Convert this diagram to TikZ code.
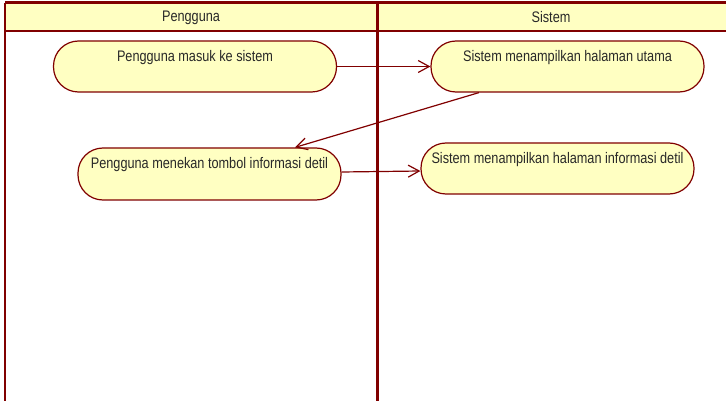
\documentclass[tikz,border=0pt]{standalone}
\usepackage{fontspec}
\setmainfont{Liberation Sans}[FakeStretch=0.83]
\usetikzlibrary{arrows.meta}
\definecolor{lane}{RGB}{128,0,0}
\definecolor{actfill}{RGB}{255,255,194}
\definecolor{ink}{RGB}{40,40,40}

\begin{document}
\begin{tikzpicture}[x=1pt,y=-1pt,
  txt/.style={text=ink, font=\fontsize{15.3}{18}\selectfont},
  act/.style={txt, draw=lane, line width=1.2pt, fill=actfill,
    rounded corners=25pt, minimum height=51pt, inner sep=0pt,
    text height=10pt, text depth=20pt},
  flow/.style={draw=lane, line width=1.2pt,
    -{Straight Barb[length=11pt,width=12pt,line width=1.2pt]}},
  border/.style={draw=lane, line width=3pt}]
  \useasboundingbox (0,0) rectangle (726,401);
  \clip (0,0) rectangle (726,401);

  % swimlane frame
  \fill[actfill] (5,3) rectangle (740,31);
  \draw[border, line width=2.2pt] (5,31) -- (740,31);
  \draw[border, line width=2.4pt] (5,410) -- (5,3);
  \draw[border] (5,3) -- (740,3);
  \draw[border] (377,3) -- (377,410);
  \node[txt] (laneU) at (191,17.5) {Pengguna};
  \node[txt] (laneS) at (551,17.5) {Sistem};

  % activities
  \node[act, minimum width=283pt] (n1) at (195,66.5) {Pengguna masuk ke sistem};
  \node[act, minimum width=273pt] (n2) at (567.5,66.5) {Sistem menampilkan halaman utama};
  \node[act, minimum width=263pt, minimum height=52pt] (n3) at (209.5,174) {Pengguna menekan tombol informasi detil};
  \node[act, minimum width=273pt] (n4) at (557.5,168.5) {Sistem menampilkan halaman informasi detil};

  % transitions
  \draw[flow] (n1.east) -- (n2.west);
  \draw[flow] ([xshift=-88.5pt]n2.south) -- ([xshift=85.5pt]n3.north);
  \draw[flow] ([yshift=2pt]n3.east) -- ([yshift=-2.5pt]n4.west);
\end{tikzpicture}
\end{document}
